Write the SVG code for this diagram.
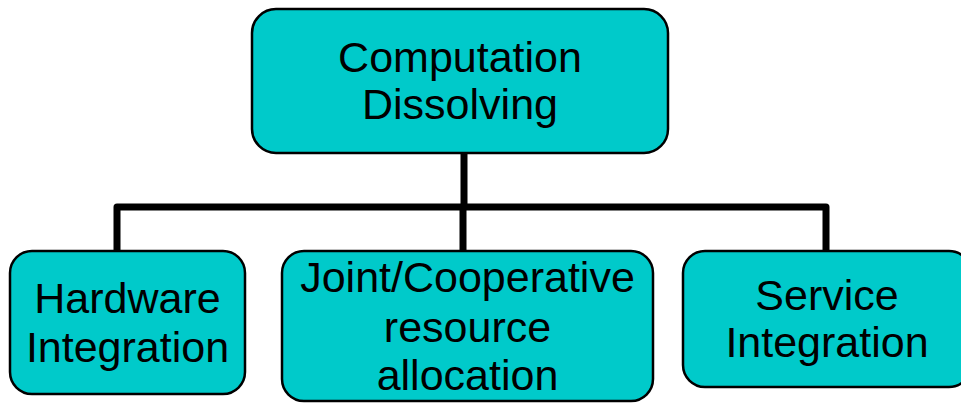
<svg xmlns="http://www.w3.org/2000/svg" width="961" height="403" viewBox="0 0 961 403">
<style>
.box{fill:#00CACA;stroke:#000;stroke-width:2.5}
.t{font-family:"Liberation Sans",Arial,sans-serif;font-size:43px;fill:#000;text-anchor:middle}
.c{fill:none;stroke:#000;stroke-width:7;stroke-linejoin:round;stroke-linecap:round}
</style>
<rect width="961" height="403" fill="#fff"/>
<g id="connectors">
<path class="c" d="M464 153 V207"/>
<path class="c" d="M117 251 V207 H826 V251"/>
<path class="c" d="M463 207 V251"/>
</g>
<g id="root">
<rect class="box" x="252" y="9" width="416" height="144" rx="24"/>
<text class="t" x="460" y="72">Computation</text>
<text class="t" x="460" y="119">Dissolving</text>
</g>
<g id="hardware">
<rect class="box" x="10" y="251" width="235" height="143" rx="22"/>
<text class="t" x="127.5" y="313">Hardware</text>
<text class="t" x="127.5" y="362">Integration</text>
</g>
<g id="joint">
<rect class="box" x="282" y="251" width="371" height="150" rx="22"/>
<text class="t" x="467.5" y="292">Joint/Cooperative</text>
<text class="t" x="467.5" y="342">resource</text>
<text class="t" x="467.5" y="390">allocation</text>
</g>
<g id="service">
<rect class="box" x="683" y="251" width="288" height="136" rx="22"/>
<text class="t" x="827" y="310">Service</text>
<text class="t" x="827" y="357">Integration</text>
</g>
</svg>
